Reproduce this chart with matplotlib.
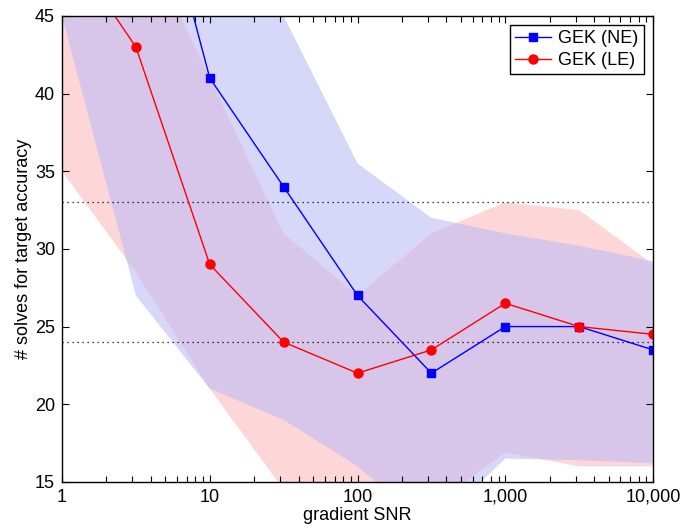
import numpy as np
import matplotlib.pyplot as plt
from matplotlib.ticker import FixedLocator, LogLocator, NullFormatter

plt.rcParams['font.family'] = ['Liberation Sans', 'DejaVu Sans']

# gradient SNR (half decades)
snr = [1, 3.162, 10, 31.62, 100, 316.2, 1000, 3162, 10000]

# mean number of solves
ne_mean = [75, 59, 41, 34, 27, 22, 25, 25, 23.5]
le_mean = [50, 43, 29, 24, 22, 23.5, 26.5, 25, 24.5]

# spread bands
ne_lo = [45, 27, 21, 19, 16, 12, 16.5, 16.4, 16.2]
ne_hi = [62, 60, 56, 45, 35.5, 32, 31, 30.2, 29.2]
le_lo = [35, 28.5, 21, 14.5, 14, 13.4, 16.9, 16.0, 16.0]
le_hi = [60, 51, 41, 31, 27, 31, 33, 32.5, 29]

ref_lines = [33, 24]
xtick_vals = [1, 10, 100, 1000, 10000]
xtick_labels = ['1', '10', '100', '1,000', '10,000']

fig = plt.figure(figsize=(6.81, 5.29), dpi=100)
ax = fig.add_axes([0.091, 0.089, 0.868, 0.881])
ax.set_xscale('log')

blue_fill = '#d7d7fa'
red_fill = '#fdd7d7'
both_fill = '#d8c5ea'

ax.fill_between(snr, ne_lo, ne_hi, color=blue_fill, lw=0, zorder=1)
red_band = ax.fill_between(snr, le_lo, le_hi, color=red_fill, lw=0, zorder=1)
# overlap of the two bands
overlap = ax.fill_between(snr, ne_lo, ne_hi, color=both_fill, lw=0, zorder=1.5)
overlap.set_clip_path(red_band.get_paths()[0], ax.transData)

for yv in ref_lines:
    ax.axhline(yv, color='k', ls=(0, (1, 3)), lw=0.9, zorder=2)

ax.plot(snr, ne_mean, color='blue', lw=1, marker='s', ms=6, label='GEK (NE)', zorder=3)
ax.plot(snr, le_mean, color='red', lw=1, marker='o', ms=6.5, label='GEK (LE)', zorder=3)

ax.set_xlim(1, 10000)
ax.set_ylim(15, 45)
ax.xaxis.set_major_locator(FixedLocator(xtick_vals))
ax.set_xticklabels(xtick_labels)
ax.xaxis.set_minor_locator(LogLocator(base=10, subs=np.arange(2, 10), numticks=20))
ax.xaxis.set_minor_formatter(NullFormatter())
ax.set_yticks([15, 20, 25, 30, 35, 40, 45])

ax.tick_params(which='both', direction='in', top=True, right=True, labelsize=13, width=0.8)
ax.tick_params(which='major', length=5, pad=5)
ax.tick_params(which='minor', length=4)
for s in ax.spines.values():
    s.set_linewidth(1)
    s.set_zorder(4)

ax.set_xlabel('gradient SNR', fontsize=13, labelpad=1)
ax.set_ylabel('# solves for target accuracy', fontsize=13, labelpad=2)

leg = ax.legend(loc='upper right', fontsize=13, fancybox=False, edgecolor='k',
                framealpha=1, borderaxespad=0.5, handlelength=2.0, borderpad=0.3,
                labelspacing=0.25, handletextpad=0.4)
leg.get_frame().set_linewidth(1)
leg.set_zorder(5)

fig.savefig('out.png', dpi=100)
